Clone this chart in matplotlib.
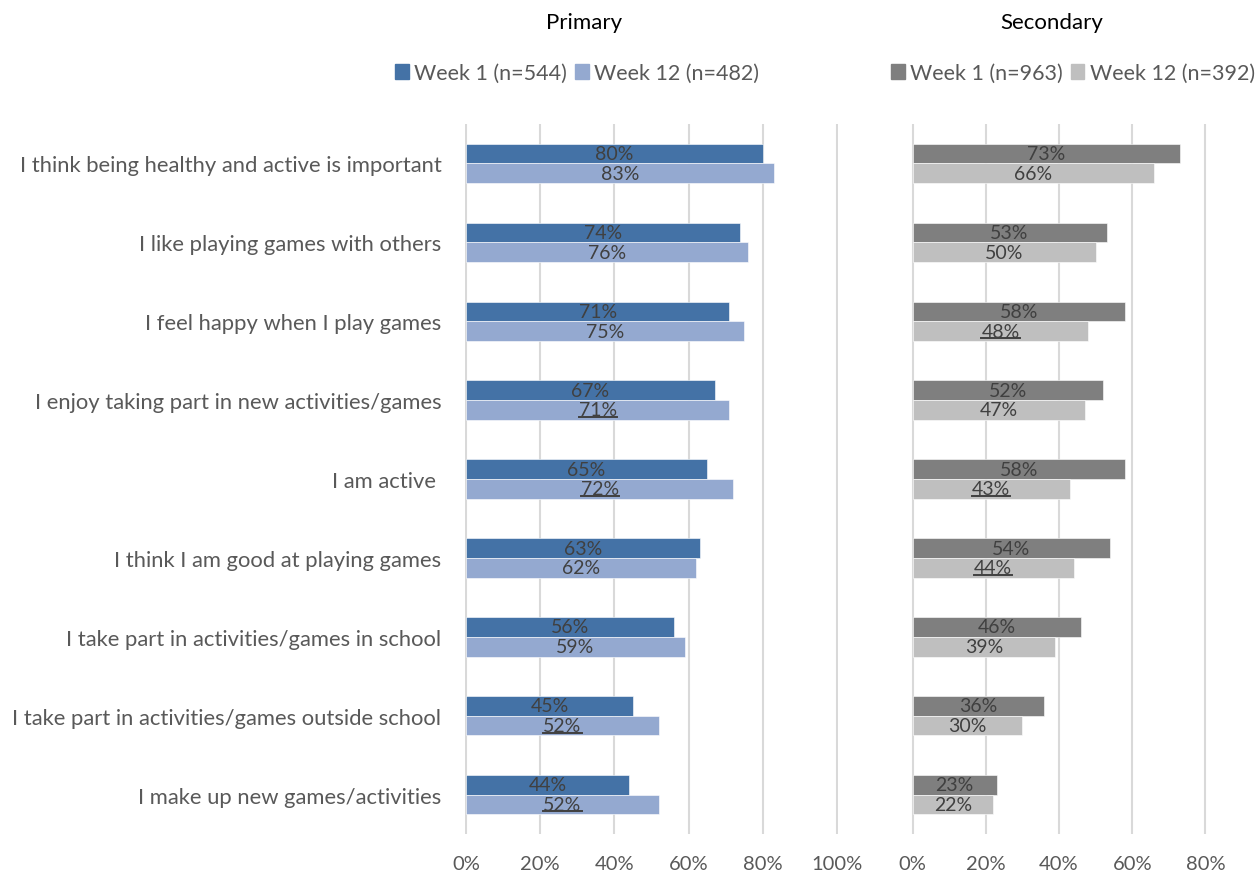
import numpy as np
import matplotlib
matplotlib.use('Agg')
import matplotlib.pyplot as plt
from matplotlib.lines import Line2D
from matplotlib.patches import Patch

plt.rcParams['font.family'] = ['Lato', 'DejaVu Sans']

categories = [
    'I think being healthy and active is important',
    'I like playing games with others',
    'I feel happy when I play games',
    'I enjoy taking part in new activities/games',
    'I am active ',
    'I think I am good at playing games',
    'I take part in activities/games in school',
    'I take part in activities/games outside school',
    'I make up new games/activities',
]

primary_w1 = [80, 74, 71, 67, 65, 63, 56, 45, 44]
primary_w12 = [83, 76, 75, 71, 72, 62, 59, 52, 52]
secondary_w1 = [73, 53, 58, 52, 58, 54, 46, 36, 23]
secondary_w12 = [66, 50, 48, 47, 43, 44, 39, 30, 22]

# labels shown underlined in the original (week 12 bars)
primary_underlined = [3, 4, 7, 8]
secondary_underlined = [2, 4, 5]

primary_legend = ['Week 1 (n=544)', 'Week 12 (n=482)']
secondary_legend = ['Week 1 (n=963)', 'Week 12 (n=392)']

primary_colors = ['#4472A6', '#94A9D0']
secondary_colors = ['#7F7F7F', '#BFBFBF']

TEXT = '#595959'
LABEL = '#404040'
GRID = '#D9D9D9'

W, H = 1258, 879
fig = plt.figure(figsize=(W / 100, H / 100), dpi=100)

ax1 = fig.add_axes([465 / W, 1 - 835 / H, 373 / W, 710 / H])
ax2 = fig.add_axes([911.5 / W, 1 - 835 / H, 295 / W, 710 / H])

y = np.arange(len(categories))
h = 0.25


def draw_panel(ax, w1, w12, colors, xmax, ticks):
    b1 = ax.barh(y - h / 2, np.array(w1) / 100, height=h, color=colors[0],
                 edgecolor='white', linewidth=0.4, zorder=2)
    b2 = ax.barh(y + h / 2, np.array(w12) / 100, height=h, color=colors[1],
                 edgecolor='white', linewidth=0.4, zorder=2)
    texts = []
    for bars, vals in ((b1, w1), (b2, w12)):
        for rect, v in zip(bars, vals):
            t = ax.text(rect.get_width() / 2, rect.get_y() + rect.get_height() / 2,
                        f'{v}%', ha='center', va='center', fontsize=14,
                        color=LABEL, zorder=3)
            texts.append(t)
    ax.set_xlim(-0.003, xmax + 0.003)
    ax.set_ylim(len(categories) - 0.5, -0.5)
    ax.set_xticks(ticks)
    ax.set_xticklabels([f'{int(round(t * 100))}%' for t in ticks])
    for s in ax.spines.values():
        s.set_visible(False)
    ax.tick_params(axis='both', length=0, labelsize=14.5, colors=TEXT)
    ax.tick_params(axis='x', pad=15)
    ax.xaxis.grid(True, color=GRID, linewidth=1.5, zorder=0)
    ax.set_axisbelow(True)
    return texts[len(w1):]


w12_texts_1 = draw_panel(ax1, primary_w1, primary_w12, primary_colors, 1.0,
                         [0, 0.2, 0.4, 0.6, 0.8, 1.0])
w12_texts_2 = draw_panel(ax2, secondary_w1, secondary_w12, secondary_colors, 0.8,
                         [0, 0.2, 0.4, 0.6, 0.8])

ax1.set_yticks(y)
ax1.set_yticklabels(categories)
ax1.tick_params(axis='y', pad=17, labelsize=15.8)
ax2.set_yticks([])

fig.text(584 / W, 1 - 23 / H, 'Primary', ha='center', va='center', fontsize=16, color='black')
fig.text(1052 / W, 1 - 23 / H, 'Secondary', ha='center', va='center', fontsize=16, color='black')

leg_kw = dict(frameon=False, ncol=2, fontsize=15.5, handlelength=0.65, handleheight=0.65,
              handletextpad=0.25, columnspacing=0.35, labelcolor=TEXT, borderaxespad=0,
              borderpad=0)
h1 = [Patch(color=c) for c in primary_colors]
fig.legend(h1, primary_legend, loc='center left', bbox_to_anchor=(395 / W, 1 - 74 / H), **leg_kw)
h2 = [Patch(color=c) for c in secondary_colors]
fig.legend(h2, secondary_legend, loc='center right', bbox_to_anchor=(1255 / W, 1 - 74 / H), **leg_kw)

# underline selected labels
fig.canvas.draw()
r = fig.canvas.get_renderer()
for texts, idxs in ((w12_texts_1, primary_underlined), (w12_texts_2, secondary_underlined)):
    for i in idxs:
        bb = texts[i].get_window_extent(renderer=r)
        yy = (bb.y0 + 1.5) / H
        fig.add_artist(Line2D([bb.x0 / W, bb.x1 / W], [yy, yy], color=LABEL, linewidth=1.4))

fig.savefig('out.png', dpi=100)
